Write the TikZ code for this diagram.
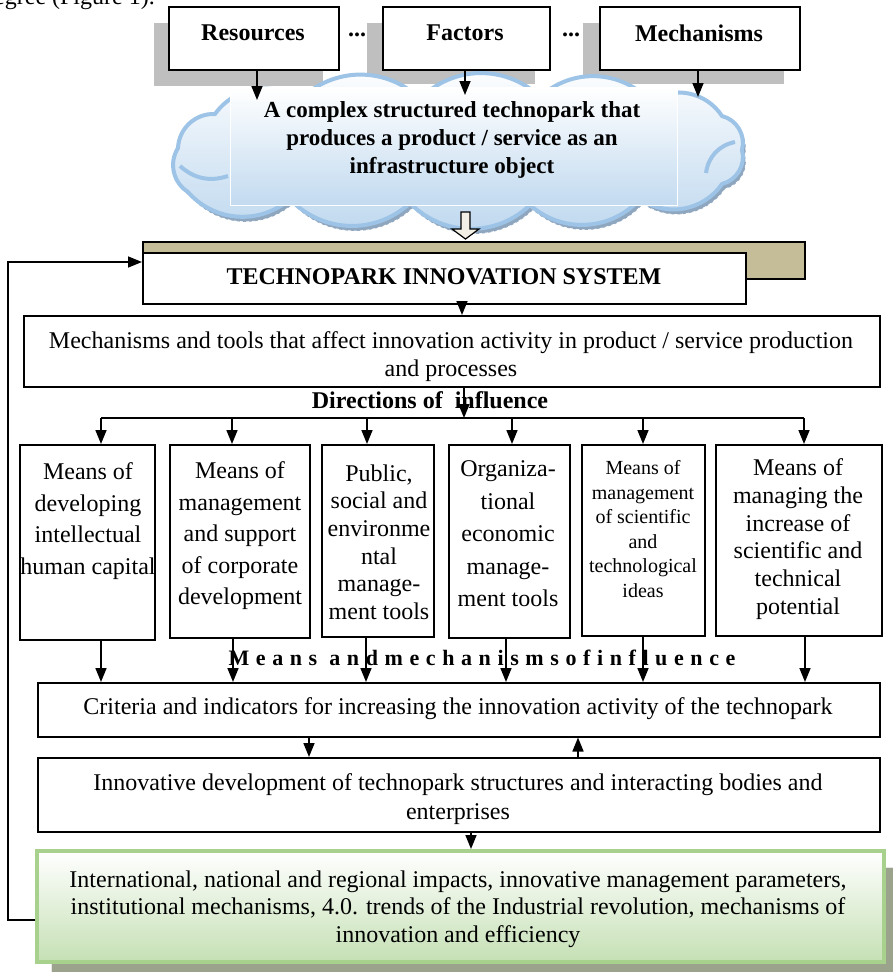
\documentclass[tikz,border=0pt]{standalone}
\usepackage{fontspec}
\setmainfont{Liberation Serif}
\usetikzlibrary{arrows.meta}
\definecolor{shadowgray}{HTML}{BFBFBF}
\definecolor{tanback}{HTML}{C4BD97}
\definecolor{cloudline}{HTML}{9DC3E6}
\definecolor{cloudfill}{HTML}{BDD7EE}
\definecolor{cloudshadow}{HTML}{8FA6BF}
\definecolor{greenline}{HTML}{A9D18E}
\definecolor{greenfill}{HTML}{C5E0B4}
\definecolor{greenshadow}{HTML}{9CA38C}
\definecolor{ivory}{HTML}{F2F0E6}
\begin{document}
\begin{tikzpicture}[x=1pt,y=-1pt,
  box/.style={draw=black,line width=1.5pt,fill=white,anchor=north west,inner sep=0pt},
  arr/.style={line width=1.6pt,-{Triangle[length=14pt,width=11pt]}},
  ln/.style={line width=1.6pt},
  txt/.style={font=\fontsize{24}{28}\selectfont,align=center,inner sep=0pt},
  btxt/.style={font=\fontsize{24}{28}\selectfont\bfseries,align=center,inner sep=0pt},
  puff/.style={bend left=45},
]
\useasboundingbox (0,0) rectangle (892,972);
% fragment of body text cut by the top edge
\node[anchor=base west,inner sep=0pt,font=\fontsize{24}{28}\selectfont] (bodyfrag) at (-18,4) {degree (Figure 1).};

% ---- top boxes ----
\fill[shadowgray] (154,23) rectangle (323,86);
\fill[shadowgray] (367,23) rectangle (535,84);
\fill[shadowgray] (583,23) rectangle (784,84);
\node[box,minimum width=170pt,minimum height=63pt] (res) at (168,6) {};
\node[box,minimum width=167pt,minimum height=63pt] (fac) at (382,6) {};
\node[box,minimum width=200pt,minimum height=63pt] (mec) at (599,6) {};
\node[btxt] (rest) at (253,33) {Resources};
\node[btxt] (fact) at (465,33) {Factors};
\node[btxt] (mect) at (699,33) {Mechanisms};
\node[btxt] (dots1) at (357,35) {...};
\node[btxt] (dots2) at (571,35) {...};

% ---- cloud ----
\def\cloudpath{(188,192) to[puff] (178,148) to[puff] (215,114) to[puff] (300,100)
  to[puff] (420,99) to[puff] (540,97) to[puff] (650,101)
  to[puff] (722,116) to[puff] (742,150) to[puff] (722,184) to[puff] (640,199)
  to[puff] (530,205) to[puff] (410,203) to[puff] (290,199)
  to[puff] cycle}
\begin{scope}[shift={(3,5)}]
\fill[cloudshadow] \cloudpath;
\draw[white,line width=0.8pt,dashed] \cloudpath;
\end{scope}
\shade[top color=white,bottom color=cloudfill,draw=cloudline,line width=4pt] \cloudpath;
\draw[cloudline,line width=4pt] (180,166) to[bend right=30] (228,176);
\draw[cloudline,line width=4pt] (706,173) to[bend left=35] (735,142);
\node[anchor=north west,minimum width=447pt,minimum height=118pt,inner sep=0pt,
      top color=white,bottom color=cloudfill!92!white,draw=white,line width=0.8pt] (cloudbox) at (230,87) {};
\node[btxt,font=\fontsize{23}{28}\selectfont\bfseries] (cloudt) at (452,140)
  {A complex structured technopark that\\produces a product / service as an\\infrastructure object};

\coordinate (r1) at (257,100);
\coordinate (f1) at (465,95);
\coordinate (m1) at (698,97);
\draw[arr] (res.south -| r1) -- (r1);
\draw[arr] (fac.south -| f1) -- (f1);
\draw[arr] (mec.south -| m1) -- (m1);

% hollow arrow
\draw[fill=ivory,line width=1.2pt] (461,212)--(470,212)--(470,229)--(479,229)--(465.5,239)--(452,229)--(461,229)--cycle;

% ---- technopark innovation system ----
\node[box,fill=tanback,minimum width=662pt,minimum height=37pt] (tpsback) at (142,241) {};
\node[box,minimum width=603pt,minimum height=51pt] (tps) at (142,252) {};
\node[btxt] (tpst) at (444,277) {TECHNOPARK INNOVATION SYSTEM};

% ---- mechanisms and tools ----
\node[box,minimum width=856pt,minimum height=71pt] (mtools) at (23,315) {};
\node[txt] (mtoolst) at (451,357) {Mechanisms and tools that affect innovation activity in product / service production\\and processes};
\coordinate (t1) at (462,0);
\draw[arr] (tps.south -| t1) -- (mtools.north -| t1);

\node[btxt] (dirt) at (430,400) {Directions of\ \ influence};

% distribution
\coordinate (d0) at (464,418);
\coordinate (dl) at (101,418);
\coordinate (dr) at (804,418);
\draw[arr] (mtools.south -| d0) -- (d0);
\draw[ln] (dl) -- (dr);

% ---- six boxes ----
\node[box,minimum width=135pt,minimum height=195pt] (b1) at (19,444) {};
\node[box,minimum width=140pt,minimum height=193pt] (b2) at (169,444) {};
\node[box,minimum width=112pt,minimum height=192pt] (b3) at (321,444) {};
\node[box,minimum width=121pt,minimum height=193pt] (b4) at (448,444) {};
\node[box,minimum width=123pt,minimum height=191pt] (b5) at (581,444) {};
\node[box,minimum width=166pt,minimum height=191pt] (b6) at (715,444) {};

\foreach \xx/\bb in {101/b1,232/b2,367/b3,512/b4,643/b5,804/b6}{
  \coordinate (u\bb) at (\xx,418);
  \draw[arr] (u\bb) -- (\bb.north -| u\bb);
}

\node[txt,font=\fontsize{24}{31.7}\selectfont] (b1t) at (88,521) {Means of\\developing\\intellectual\\human capital};
\node[txt,font=\fontsize{24}{31.5}\selectfont] (b2t) at (240,536) {Means of\\management\\and support\\of corporate\\development};
\node[txt,font=\fontsize{24}{27.6}\selectfont] (b3t) at (379,542) {Public,\\social and\\environme\\ntal\\manage-\\ment tools};
\node[txt,font=\fontsize{24}{32.5}\selectfont] (b4t) at (508,534) {Organiza-\\tional\\economic\\manage-\\ment tools};
\node[txt,font=\fontsize{20}{24.6}\selectfont] (b5t) at (643,529) {Means of\\management\\of scientific\\and\\technological\\ideas};
\node[txt,font=\fontsize{24}{27.8}\selectfont] (b6t) at (798,539) {Means of\\managing the\\increase of\\scientific and\\technical\\potential};

\node[inner sep=0pt,font=\fontsize{22}{24}\selectfont\bfseries\addfontfeatures{LetterSpace=30}] (meanst) at (482,658) {Means andmechanismsofinfluence};

% ---- criteria ----
\node[box,minimum width=842pt,minimum height=54pt] (crit) at (37,682) {};
\node[txt] (critt) at (458,709) {Criteria and indicators for increasing the innovation activity of the technopark};

\foreach \xx/\bb in {101/b1,233/b2,366/b3,506/b4,643/b5,805/b6}{
  \coordinate (l\bb) at (\xx,682);
  \draw[arr] (\bb.south -| l\bb) -- (l\bb);
}

% ---- innovative development ----
\node[box,minimum width=842pt,minimum height=74pt] (innov) at (37,757) {};
\node[txt,font=\fontsize{24}{29}\selectfont] (innovt) at (458,799) {Innovative development of technopark structures and interacting bodies and\\enterprises};
\coordinate (cd) at (309,0);
\coordinate (cu) at (578,0);
\draw[arr] (crit.south -| cd) -- (innov.north -| cd);
\draw[arr] (innov.north -| cu) -- (crit.south -| cu);

% ---- green box ----
\fill[greenshadow] (51,867) rectangle (895,975);
\draw[white!80!gray,line width=1pt] (51,975) -- (51,867) -- (895,867);
\node[anchor=north west,minimum width=847pt,minimum height=111pt,inner sep=0pt,
      draw=greenline,line width=4pt,top color=white,bottom color=greenfill] (green) at (35,849) {};
\node[txt,font=\fontsize{24}{27.5}\selectfont] (greent) at (458,909)
  {International, national and regional impacts, innovative management parameters,\\institutional mechanisms, 4.0. trends of the Industrial revolution, mechanisms of\\innovation and efficiency};
\coordinate (gd) at (471,0);
\draw[arr] (innov.south -| gd) -- (green.north -| gd);

% ---- feedback loop ----
\coordinate (fb1) at (8,920);
\coordinate (fb2) at (8,262);
\draw[arr,line width=1.5pt] (green.west |- fb1) -- (fb1) -- (fb2) -- (tps.west |- fb2);
\end{tikzpicture}
\end{document}
